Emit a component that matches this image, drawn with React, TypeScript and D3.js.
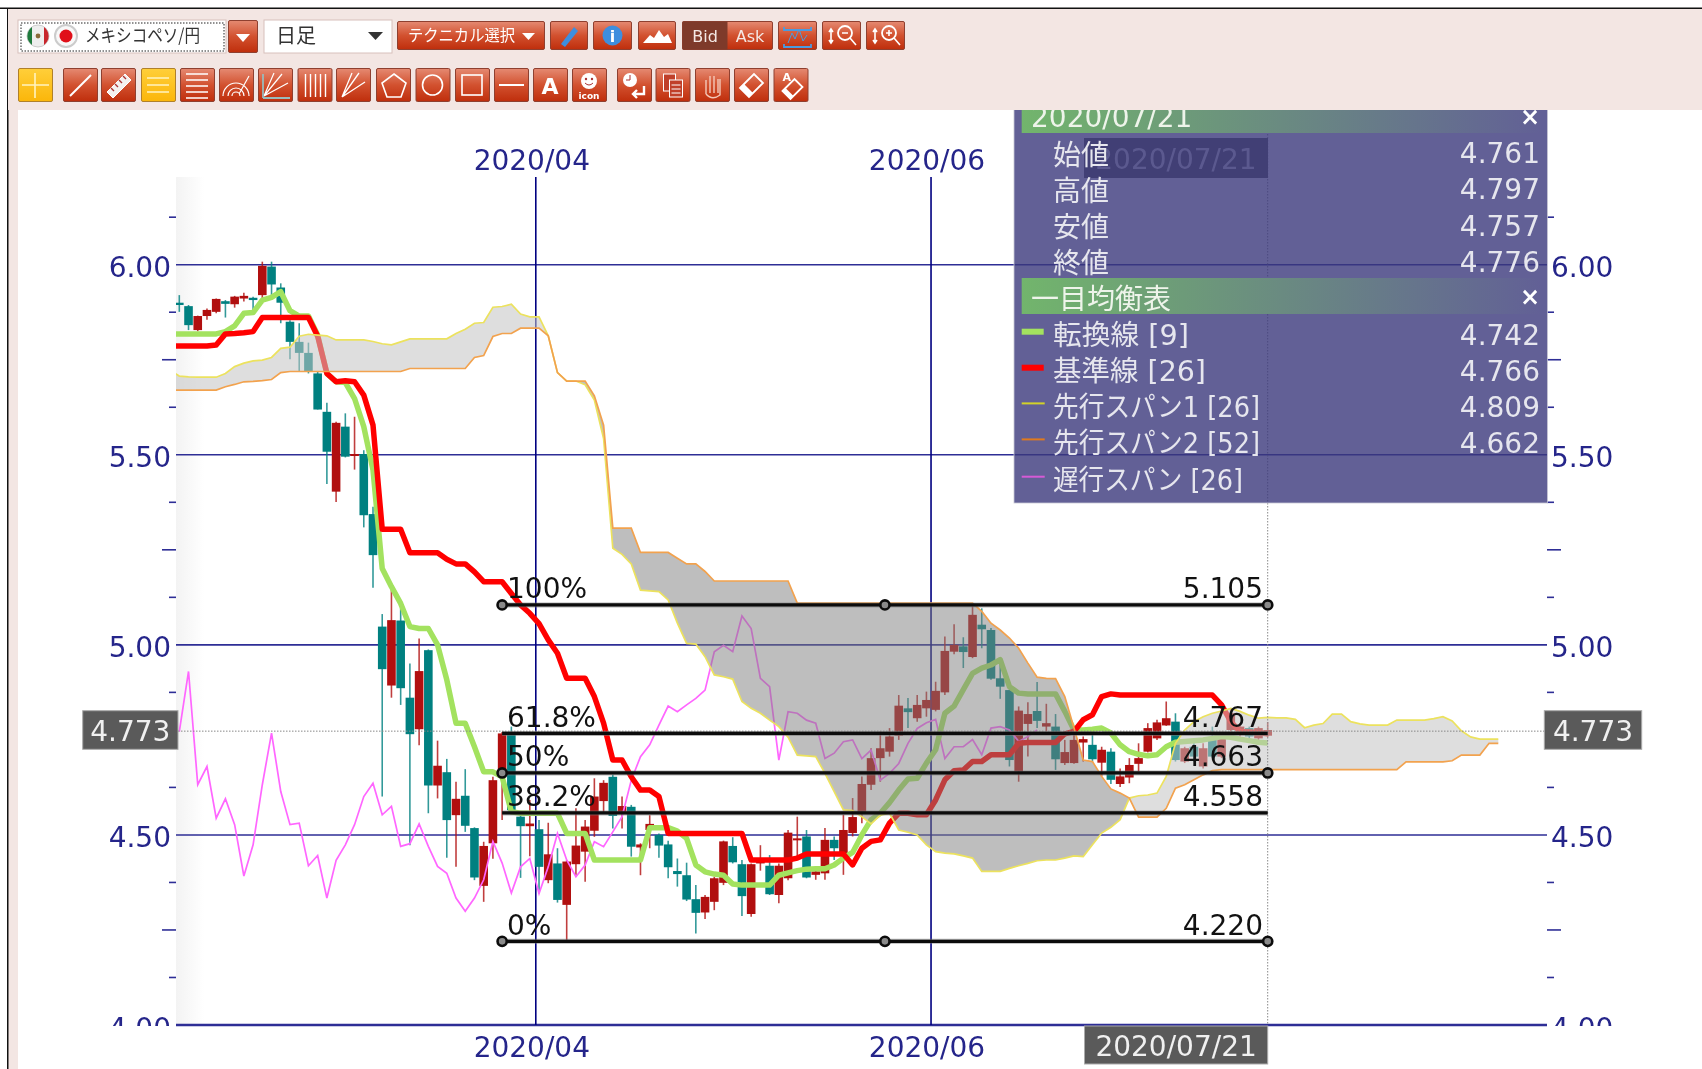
import React from "react";
import * as d3 from "d3";

const opens = [5.900,5.891,5.828,5.865,5.876,5.904,5.896,5.911,5.913,5.920,
5.995,5.940,5.850,5.797,5.768,5.714,5.613,5.403,5.574,5.499,
5.502,5.344,5.048,4.893,5.064,4.861,4.778,4.986,4.630,4.665,
4.552,4.603,4.518,4.366,4.478,4.662,4.767,4.548,4.523,4.515,
4.381,4.425,4.316,4.423,4.456,4.511,4.589,4.653,4.561,4.574,
4.467,4.513,4.500,4.475,4.405,4.394,4.331,4.296,4.324,4.374,
4.471,4.423,4.292,4.425,4.419,4.342,4.386,4.487,4.496,4.395,
4.399,4.487,4.452,4.505,4.557,4.632,4.702,4.719,4.761,4.833,
4.807,4.833,4.829,4.875,4.982,4.996,4.968,5.053,5.039,4.912,
4.881,4.667,4.792,4.826,4.785,4.785,4.689,4.689,4.743,4.737,
4.690,4.719,4.634,4.651,4.687,4.719,4.754,4.788,4.798,4.693,
4.732,4.680,4.750,4.706,4.776,4.763,4.781,4.754,4.761];
const closes = [5.894,5.841,5.865,5.881,5.910,5.897,5.916,5.918,5.907,5.997,
5.948,5.900,5.797,5.768,5.720,5.619,5.508,5.584,5.495,5.502,
5.341,5.236,4.936,5.065,4.886,4.765,4.931,4.630,4.682,4.539,
4.595,4.524,4.388,4.471,4.644,4.767,4.565,4.523,4.530,4.416,
4.449,4.329,4.430,4.472,4.522,4.601,4.637,4.550,4.576,4.469,
4.475,4.529,4.472,4.415,4.397,4.330,4.295,4.337,4.386,4.483,
4.428,4.339,4.423,4.434,4.344,4.419,4.506,4.491,4.388,4.404,
4.487,4.465,4.513,4.547,4.634,4.702,4.728,4.759,4.840,4.823,
4.842,4.855,4.879,4.984,5.000,4.981,5.079,5.041,4.911,4.890,
4.697,4.827,4.818,4.800,4.794,4.699,4.718,4.750,4.752,4.699,
4.724,4.645,4.654,4.684,4.702,4.781,4.796,4.807,4.697,4.728,
4.706,4.728,4.706,4.759,4.820,4.785,4.759,4.781,4.776];
const highs = [5.920,5.894,5.866,5.885,5.911,5.907,5.918,5.926,5.916,6.008,
6.008,5.951,5.854,5.846,5.795,5.718,5.637,5.587,5.609,5.600,
5.512,5.363,5.081,5.153,5.096,4.951,5.017,4.988,4.748,4.700,
4.640,4.673,4.520,4.482,4.653,4.771,4.785,4.557,4.592,4.539,
4.532,4.465,4.434,4.570,4.539,4.649,4.644,4.658,4.601,4.579,
4.478,4.552,4.504,4.485,4.438,4.427,4.368,4.342,4.390,4.485,
4.494,4.434,4.425,4.473,4.447,4.425,4.513,4.548,4.513,4.417,
4.518,4.496,4.553,4.597,4.654,4.728,4.772,4.781,4.868,4.860,
4.868,4.877,4.903,5.022,5.054,5.020,5.101,5.096,5.044,4.965,
4.882,4.838,4.849,4.902,4.845,4.818,4.750,4.772,4.759,4.763,
4.732,4.728,4.675,4.702,4.741,4.794,4.803,4.851,4.820,4.732,
4.741,4.741,4.785,4.768,4.833,4.794,4.785,4.785,4.797];
const lows = [5.876,5.828,5.825,5.855,5.872,5.861,5.887,5.903,5.879,5.898,
5.920,5.846,5.751,5.718,5.714,5.619,5.423,5.376,5.493,5.461,
5.309,5.150,4.601,4.861,4.842,4.473,4.736,4.557,4.596,4.440,
4.416,4.508,4.381,4.324,4.437,4.539,4.557,4.387,4.444,4.346,
4.373,4.322,4.219,4.390,4.377,4.495,4.557,4.517,4.517,4.443,
4.394,4.465,4.440,4.386,4.364,4.326,4.241,4.279,4.302,4.368,
4.425,4.287,4.285,4.406,4.342,4.320,4.381,4.443,4.386,4.382,
4.382,4.434,4.395,4.496,4.531,4.618,4.640,4.706,4.750,4.781,
4.798,4.811,4.825,4.868,4.975,4.939,4.965,4.991,4.908,4.858,
4.680,4.640,4.706,4.781,4.772,4.671,4.684,4.687,4.693,4.693,
4.654,4.634,4.626,4.636,4.667,4.717,4.750,4.787,4.693,4.689,
4.693,4.675,4.702,4.702,4.772,4.759,4.750,4.750,4.757];

// lines below start one bar before the first candle
const tenkan = [5.818,5.818,5.818,5.818,5.818,5.818,5.824,5.839,5.872,5.874,5.907,5.914,5.929,5.879,5.865,5.865,
5.815,5.714,5.692,5.690,5.648,5.574,5.460,5.201,5.153,5.109,
5.048,5.043,5.043,5.000,4.908,4.794,4.794,4.732,4.666,4.666,
4.653,4.561,4.557,4.557,4.557,4.557,4.557,4.504,4.504,4.504,
4.434,4.434,4.434,4.434,4.434,4.434,4.519,4.519,4.519,4.510,4.491,
4.421,4.403,4.397,4.394,4.371,4.368,4.368,4.368,4.368,4.394,
4.400,4.406,4.410,4.411,4.411,4.421,4.439,4.454,4.500,4.540,4.557,4.585,4.618,4.647,4.649,
4.689,4.724,4.820,4.839,4.882,4.925,4.939,4.947,4.961,4.890,4.873,4.871,4.871,4.871,4.871,
4.825,4.776,4.776,4.778,4.781,4.768,4.737,4.719,4.712,4.708,4.711,4.732,4.744,4.746,4.748,4.750,4.754,4.759,4.757,4.752,4.748,4.744,4.742];
const kijun = [5.786,5.786,5.786,5.786,5.786,5.789,5.818,5.819,5.821,5.824,5.861,5.861,5.861,5.861,5.861,5.861,
5.812,5.714,5.692,5.695,5.692,5.657,5.578,5.304,5.304,5.304,
5.242,5.242,5.242,5.242,5.225,5.213,5.213,5.192,5.166,5.166,5.166,
5.135,5.105,5.083,5.056,5.013,4.978,4.912,4.912,4.912,4.864,4.794,4.697,4.697,4.653,4.618,4.618,4.601,
4.504,4.504,4.504,4.504,4.504,4.504,4.504,4.504,4.504,
4.434,4.434,4.434,4.434,4.434,4.439,
4.450,4.450,4.450,4.450,4.450,4.421,4.465,4.483,4.487,4.531,4.557,4.557,4.553,4.553,4.592,4.645,4.669,4.671,4.693,4.693,
4.711,4.711,4.711,4.741,4.743,4.743,4.743,4.743,4.766,4.772,4.803,4.816,4.864,4.871,
4.868,4.868,4.868,4.868,4.868,4.868,4.868,4.868,4.868,4.868,4.868,4.842,4.798,4.772,4.771,4.769,4.766];
const spanA = [5.722,5.707,5.705,5.704,5.704,5.704,5.714,5.732,5.741,5.747,5.749,
5.756,5.780,5.783,5.812,5.817,5.815,5.813,5.802,5.802,5.802,
5.802,5.798,5.792,5.789,5.797,5.805,5.805,5.805,5.805,5.805,
5.819,5.830,5.846,5.848,5.888,5.890,5.896,5.870,5.863,5.863,
5.813,5.716,5.694,5.694,5.684,5.644,5.543,5.254,5.238,5.213,
5.144,5.142,5.140,5.118,5.057,5.004,5.002,4.969,4.921,4.916,
4.910,4.851,4.833,4.820,4.802,4.785,4.757,4.710,4.708,4.706,
4.662,4.614,4.566,4.564,4.548,4.529,4.552,4.557,4.513,4.507,
4.500,4.474,4.456,4.452,4.450,4.445,4.439,4.404,4.404,4.404,
4.412,4.419,4.425,4.432,4.434,4.434,4.439,4.445,4.443,4.474,
4.505,4.520,4.540,4.597,4.603,4.605,4.610,4.654,4.741,4.776,
4.798,4.811,4.820,4.826,4.833,4.825,4.815,4.807,4.809,4.808,
4.808,4.804,4.782,4.789,4.793,4.818,4.818,4.798,4.792,4.789,
4.789,4.789,4.802,4.802,4.802,4.802,4.806,4.811,4.800,4.774,
4.758,4.752,4.752,4.752];
const spanB = [5.670,5.670,5.670,5.670,5.670,5.670,5.679,5.685,5.692,5.693,5.695,
5.698,5.716,5.719,5.719,5.719,5.719,5.719,5.719,5.719,5.719,
5.719,5.719,5.719,5.719,5.719,5.727,5.727,5.727,5.727,5.727,
5.727,5.727,5.756,5.761,5.811,5.819,5.819,5.833,5.833,5.833,
5.813,5.716,5.694,5.694,5.694,5.655,5.578,5.307,5.307,5.307,
5.243,5.243,5.243,5.243,5.228,5.213,5.213,5.193,5.168,5.168,
5.168,5.168,5.168,5.168,5.168,5.168,5.168,5.110,5.110,5.110,
5.110,5.110,5.110,5.110,5.110,5.110,5.110,5.110,5.110,5.110,
5.110,5.110,5.110,5.110,5.110,5.110,5.110,5.088,5.057,5.039,
5.018,4.991,4.952,4.915,4.912,4.911,4.864,4.781,4.697,4.693,
4.654,4.621,4.610,4.597,4.547,4.547,4.547,4.570,4.623,4.632,
4.645,4.658,4.669,4.672,4.672,4.672,4.672,4.672,4.672,4.672,
4.672,4.672,4.672,4.672,4.672,4.672,4.672,4.672,4.672,4.672,
4.672,4.672,4.672,4.692,4.692,4.692,4.692,4.692,4.695,4.710,
4.710,4.710,4.741,4.741];
// chikou starts at the first candle
const chikou = [4.772,4.930,4.632,4.680,4.544,4.595,4.527,4.392,4.474,4.632,
4.768,4.614,4.527,4.531,4.419,4.446,4.334,4.433,4.474,4.527,
4.601,4.636,4.553,4.575,4.470,4.477,4.529,4.470,4.417,4.399,
4.334,4.299,4.334,4.382,4.483,4.426,4.347,4.416,4.438,4.346,
4.416,4.504,4.434,4.390,4.421,4.482,4.469,4.508,4.548,4.644,
4.706,4.737,4.789,4.839,4.824,4.842,4.859,4.881,4.982,4.999,
4.982,5.076,5.043,4.912,4.890,4.697,4.824,4.820,4.802,4.794,
4.701,4.715,4.745,4.750,4.701,4.723,4.644,4.662,4.688,4.741,
4.780,4.795,4.804,4.701,4.732,4.732,4.751,4.711,4.781,4.785,
4.776,4.746,4.759,4.776];

const yMajor = [6, 5.5, 5, 4.5, 4];
const yMajorLabels = ["6.00", "5.50", "5.00", "4.50", "4.00"];
const yMinorShort = [6.125, 5.875, 5.625, 5.375, 5.125, 4.875, 4.625, 4.375, 4.125];
const yMinorLong = [5.75, 5.25, 4.75, 4.25];
const xTickLabels = ["2020/04", "2020/06"];
const xTickBars = [38.65, 81.5];
const cursorBar = 118;
const cursorDate = "2020/07/21";
const priceNow = 4.773;
const fibLevels = [5.105, 4.767, 4.663, 4.558, 4.22];
const fibPercent = ["100%", "61.8%", "50%", "38.2%", "0%"];
const fibValueLabels = ["5.105", "4.767", "4.663", "4.558", "4.220"];
const fibHandleLevels = [5.105, 4.663, 4.22];
const fibMidHandleLevels = [5.105, 4.22];
const fibStartBar = 35;
const ohlcLabels = ["始値", "高値", "安値", "終値"];
const ohlcValues = ["4.761", "4.797", "4.757", "4.776"];
const ichiLabels = ["転換線 [9]", "基準線 [26]", "先行スパン1 [26]", "先行スパン2 [52]", "遅行スパン [26]"];
const ichiLabelWidths = [136, 153, 207, 207, 190];
const ichiValues = ["4.742", "4.766", "4.809", "4.662", ""];
const ichiColors = ["#a3e25f", "#ff0000", "#d2d228", "#e07a1e", "#d65ad6"];
const ichiThick = [6, 6, 2, 2, 2];
const row2Buttons = ["cross", "line", "ruler", "h3", "h5", "arcs", "fanbox", "v5", "fan", "penta", "circle", "rect", "dash", "A", "icon", "clock", "copy", "hand", "eraser", "erasea"];
const row2X = [18, 63, 101, 141, 180, 219, 258, 297.5, 336, 376, 415.5, 455, 494, 533, 572, 617, 655.5, 695, 734, 773.5];

const x = d3.scaleLinear().domain([0, 118]).range([179.3, 1267.7]);
const y = d3.scaleLinear().domain([4, 6]).range([1025, 264.7]);

const AXIS = "#2e2e96";
const NAVY = "#000080";
const FONT = "'DejaVu Sans', sans-serif";
const CJK = "'Noto Sans CJK JP', sans-serif";
const MIXED = "'DejaVu Sans', 'Noto Sans CJK JP', sans-serif";
const TEAL = "#008080";
const RED = "#b10f0f";

type CloudPt = { i: number; a: number; b: number };
function cloudPoints(): CloudPt[] {
  const out: CloudPt[] = [];
  spanA.forEach((a, k) => {
    const b = spanB[k];
    const i = k - 1;
    if (k > 0) {
      const pa = spanA[k - 1];
      const pb = spanB[k - 1];
      const d0 = pa - pb;
      const d1 = a - b;
      if (d0 * d1 < 0) {
        const t = d0 / (d0 - d1);
        const v = pa + (a - pa) * t;
        out.push({ i: i - 1 + t, a: v, b: v });
      }
    }
    out.push({ i, a, b });
  });
  return out;
}

function Btn({ bx, by, w, h, yellow, children }: any) {
  return (
    <g transform={`translate(${bx},${by})`}>
      <rect x={0.5} y={0.5} width={w - 1} height={h - 1} rx={1.5} fill={yellow ? "url(#yel)" : "url(#btn)"} stroke={yellow ? "#b0802a" : "#8f4030"} />
      {children}
    </g>
  );
}

function Icon({ kind }: { kind: string }) {
  const s = { stroke: "#fff", strokeWidth: 1.6, fill: "none" } as any;
  switch (kind) {
    case "cross": return <path d="M17 5V30M4 17H31" {...s} stroke="#fff3c0" />;
    case "line": return <path d="M7 28L28 7" {...s} strokeWidth={2} />;
    case "ruler": return <g><path d="M6 24L24 6L30 12L12 30Z" fill="#f4f0ee" stroke="#fff" /><path d="M10 20l3 3M14 16l3 3M18 12l3 3M22 8l3 3" stroke="#a33" strokeWidth={1.4} /></g>;
    case "h3": return <path d="M6 10H28M6 17H28M6 24H28" {...s} stroke="#fff3c0" />;
    case "h5": return <path d="M6 6H28M6 12H28M6 18H28M6 24H28M6 30H28" {...s} />;
    case "arcs": return <path d="M4 28A13 13 0 0 1 30 28M9 28A8 8 0 0 1 25 28M13 28A4 4 0 0 1 21 28M20 26L30 8" {...s} strokeWidth={1.2} />;
    case "fanbox": return <g><path d="M6 28L16 5M6 28L24 6M6 28L30 15" {...s} strokeWidth={1.2} /><path d="M5 30H32M5 6V30" stroke="#9bb" strokeWidth={1.8} fill="none" /></g>;
    case "v5": return <path d="M8 6V29M13 6V29M18 6V29M23 6V29M28 6V29" {...s} strokeWidth={1.4} />;
    case "fan": return <path d="M6 29L16 5M6 29L23 5M6 29L29 14" {...s} strokeWidth={1.3} />;
    case "penta": return <path d="M18 6L30 15L25 29H11L6 15Z" {...s} />;
    case "circle": return <circle cx={17} cy={17} r={10} {...s} />;
    case "rect": return <rect x={7} y={7} width={20} height={20} {...s} />;
    case "dash": return <path d="M5 17H30" {...s} strokeWidth={2} />;
    case "A": return <text x={17} y={26} textAnchor="middle" fontFamily={FONT} fontSize={22} fill="#fff" fontWeight="bold">A</text>;
    case "icon": return <g><circle cx={17} cy={13} r={8} fill="#fff" /><circle cx={14} cy={11} r={1.2} fill="#a33" /><circle cx={20} cy={11} r={1.2} fill="#a33" /><path d="M13 15Q17 19 21 15" stroke="#a33" fill="none" /><text x={17} y={31} textAnchor="middle" fontFamily={FONT} fontSize={9} fill="#fff" fontWeight="bold">icon</text></g>;
    case "clock": return <g><circle cx={13} cy={12} r={7} fill="#fff" /><path d="M13 7V12H9" stroke="#a33" fill="none" /><path d="M27 18V26H16M20 22L16 26L20 30" stroke="#fff" strokeWidth={2.4} fill="none" /></g>;
    case "copy": return <g><rect x={8} y={6} width={12} height={17} fill="#c0402a" stroke="#fff" /><rect x={14} y={12} width={13} height={17} fill="#c0402a" stroke="#fff" /><path d="M16 17H25M16 21H25M16 25H25" stroke="#fff" /></g>;
    case "hand": return <path d="M11 26V12M15 25V8M19 25V8M23 25V11M11 26Q17 33 25 27V11" {...s} stroke="#f4c8b8" strokeWidth={1.4} />;
    case "eraser": return <g><path d="M6 20L20 6L29 15L15 29Z" {...s} strokeWidth={1.8} /><path d="M6 20L15 29L19 25L10 16Z" fill="#fff" /></g>;
    case "erasea": return <g><path d="M9 23L21 11L29 19L17 31Z" {...s} strokeWidth={1.8} /><path d="M9 23L17 31L20 28L12 20Z" fill="#fff" /><text x={9} y={13} fontFamily={FONT} fontSize={11} fill="#fff" fontWeight="bold">A</text></g>;
  }
  return null;
}

function Toolbar() {
  return (
    <g>
      <rect x={0} y={0} width={1702} height={8} fill="#fff" />
      <rect x={8} y={9} width={1694} height={101} fill="#f3e6e3" />
      <rect x={0} y={7.5} width={1702} height={1.5} fill="#111" />
      {/* currency pair selector */}
      <rect x={18} y={20} width={208} height={33} fill="#fff" stroke="#d8c0bc" />
      <rect x={21} y={23} width={203} height={28} fill="none" stroke="#222" strokeDasharray="1.5 1.5" />
      <g>
        <circle cx={38} cy={36} r={11} fill="#eee" stroke="#ccc" />
        <path d="M32 27A11 11 0 0 0 32 45Z" fill="#1f7a3c" />
        <path d="M44 27A11 11 0 0 1 44 45Z" fill="#c8262c" />
        <circle cx={38} cy={36} r={2.4} fill="#8a6a3a" />
        <circle cx={66} cy={36} r={11} fill="#f8f8f8" stroke="#ccc" strokeWidth={2} />
        <circle cx={66} cy={36} r={6.5} fill="#e0101a" />
      </g>
      <text x={85} y={42} fontFamily={CJK} fontSize={18} textLength={115} lengthAdjust="spacingAndGlyphs" fill="#333">メキシコペソ/円</text>
      <Btn bx={228} by={20} w={30} h={33}><path d="M8 14H22L15 22Z" fill="#fff" /></Btn>
      <rect x={264} y={20} width={128} height={33} fill="#fff" stroke="#d8c0bc" />
      <text x={276} y={43} fontFamily={CJK} fontSize={20} fill="#333">日足</text>
      <path d="M368 32H383L375.5 40Z" fill="#333" />
      <Btn bx={397} by={21} w={148} h={29}>
        <text x={11} y={20} fontFamily={CJK} fontSize={16} textLength={107} lengthAdjust="spacingAndGlyphs" fill="#fff">テクニカル選択</text>
        <path d="M125 12H138L131.5 19Z" fill="#fff" />
      </Btn>
      <Btn bx={550} by={21} w={38} h={29}><path d="M11 23L24 6L28 10L15 26Z" fill="#3e8ede" /></Btn>
      <Btn bx={593} by={21} w={39} h={29}><circle cx={19.5} cy={14.5} r={10} fill="#3e8ede" /><text x={19.5} y={21} textAnchor="middle" fontFamily={FONT} fontSize={16} fontWeight="bold" fill="#fff">i</text></Btn>
      <Btn bx={638} by={21} w={38} h={29}><path d="M5 22L12 14L16 17L21 9L26 16L30 13L34 22Z" fill="#fff" /></Btn>
      <Btn bx={682} by={21} w={91} h={29}>
        <rect x={0.5} y={0.5} width={45} height={28} fill="#7e3a2a" />
        <text x={23} y={21} textAnchor="middle" fontFamily={FONT} fontSize={16} fill="#f4e8e4">Bid</text>
        <text x={68} y={21} textAnchor="middle" fontFamily={FONT} fontSize={16} fill="#f4e8e4">Ask</text>
      </Btn>
      <Btn bx={778} by={21} w={39} h={29}>
        <path d="M6 6V9H33V6M6 23V26H33V23" stroke="#4a9be0" strokeWidth={1.8} fill="none" />
        <path d="M10 22L14 12L17 18L21 8L25 20L29 14" stroke="#4a9be0" fill="none" />
      </Btn>
      <Btn bx={822} by={21} w={39} h={29}>
        <circle cx={23} cy={12} r={7} fill="none" stroke="#fff" strokeWidth={1.8} />
        <path d="M28 17L34 24M20 12H26M9 8V22M7 11L9 8L11 11M7 19L9 22L11 19" stroke="#fff" strokeWidth={1.6} fill="none" />
      </Btn>
      <Btn bx={866} by={21} w={39} h={29}>
        <circle cx={23} cy={12} r={7} fill="none" stroke="#fff" strokeWidth={1.8} />
        <path d="M28 17L34 24M20 12H26M23 9V15M9 8V22M7 11L9 8L11 11M7 19L9 22L11 19" stroke="#fff" strokeWidth={1.6} fill="none" />
      </Btn>
      {row2Buttons.map((k, n) => (
        <Btn key={k} bx={row2X[n]} by={68} w={35} h={34} yellow={k === "cross" || k === "h3"}>
          <Icon kind={k} />
        </Btn>
      ))}
    </g>
  );
}

function Candles() {
  return (
    <g>
      {opens.map((o, i) => {
        const c = closes[i];
        const col = c >= o ? RED : TEAL;
        const top = y(Math.max(o, c));
        const bot = y(Math.min(o, c));
        return (
          <g key={i}>
            <line x1={x(i)} x2={x(i)} y1={y(highs[i])} y2={y(lows[i])} stroke={col} strokeWidth={1.6} opacity={0.8} />
            <rect x={x(i) - 4.3} y={top} width={8.6} height={Math.max(bot - top, 2)} fill={col} />
          </g>
        );
      })}
    </g>
  );
}

function Handle({ cx, cy }: { cx: number; cy: number }) {
  return <circle cx={cx} cy={cy} r={4.6} fill="#8a8a8a" stroke="#0c0c0c" strokeWidth={2.6} />;
}

export default function App() {
  const lineT = d3.line<number>().x((_, k) => x(k - 1)).y((v) => y(v));
  const lineC = d3.line<number>().x((_, k) => x(k)).y((v) => y(v));
  const cloud = cloudPoints();
  const areaLight = d3.area<CloudPt>().x((p) => x(p.i)).y0((p) => y(p.b)).y1((p) => y(Math.max(p.a, p.b)));
  const areaDark = d3.area<CloudPt>().x((p) => x(p.i)).y0((p) => y(p.a)).y1((p) => y(Math.max(p.a, p.b)));
  const chartL = 176;
  const chartR = 1547;
  const chartT = 177;
  const chartB = 1025;
  const curX = x(cursorBar);
  const nowY = y(priceNow);
  const fibL = x(fibStartBar);
  const panelL = 1014;
  const panelR = 1547.5;
  const rowsA = [163, 199, 235.7, 271.7];
  const rowsB = [345, 381, 416.7, 452.7, 490];

  return (
    <svg width={1702} height={1069} style={{ position: "fixed", left: 0, top: 0, display: "block", background: "#fff", filter: "blur(0.45px)" }}>
      <defs>
        <linearGradient id="btn" x1="0" y1="0" x2="0" y2="1">
          <stop offset="0" stopColor="#e58a72" />
          <stop offset="0.5" stopColor="#d2512f" />
          <stop offset="1" stopColor="#bf2e0c" />
        </linearGradient>
        <linearGradient id="yel" x1="0" y1="0" x2="0" y2="1">
          <stop offset="0" stopColor="#ffcf3a" />
          <stop offset="1" stopColor="#fbb60a" />
        </linearGradient>
        <linearGradient id="fade" x1="0" y1="0" x2="1" y2="0">
          <stop offset="0" stopColor="#f3f3f3" />
          <stop offset="1" stopColor="#ffffff" />
        </linearGradient>
        <linearGradient id="hdr" x1="0" y1="0" x2="1" y2="0">
          <stop offset="0" stopColor="#72b56c" />
          <stop offset="1" stopColor="#626096" />
        </linearGradient>
        <clipPath id="plot"><rect x={chartL} y={chartT} width={chartR - chartL} height={chartB - chartT + 1} /></clipPath>
        <clipPath id="above"><rect x={0} y={110} width={1702} height={916} /></clipPath>
      </defs>

      <rect x={8} y={9} width={10} height={1060} fill="#f3e6e3" />
      <rect x={7} y={8} width={1.5} height={1061} fill="#111" />
      <rect x={chartL} y={chartT} width={28} height={chartB - chartT} fill="url(#fade)" />

      {/* grid */}
      {yMajor.map((v) => (
        <line key={v} x1={chartL} x2={chartR} y1={y(v)} y2={y(v)} stroke={AXIS} strokeWidth={v === 4 ? 2.4 : 1.6} />
      ))}
      {xTickBars.map((b) => (
        <line key={b} x1={x(b)} x2={x(b)} y1={chartT} y2={chartB} stroke={NAVY} strokeWidth={1.6} />
      ))}
      {yMinorShort.map((v) => (
        <g key={v} stroke={AXIS} strokeWidth={1.6}>
          <line x1={chartL - 7} x2={chartL} y1={y(v)} y2={y(v)} />
          <line x1={chartR} x2={chartR + 7} y1={y(v)} y2={y(v)} />
        </g>
      ))}
      {yMinorLong.map((v) => (
        <g key={v} stroke={AXIS} strokeWidth={1.6}>
          <line x1={chartL - 14} x2={chartL} y1={y(v)} y2={y(v)} />
          <line x1={chartR} x2={chartR + 14} y1={y(v)} y2={y(v)} />
        </g>
      ))}
      <g clipPath="url(#above)" fontFamily={FONT} fontSize={28} fill="#25258a">
        {yMajor.map((v, k) => (
          <g key={v}>
            <text x={171} y={y(v) + 12.5} textAnchor="end">{yMajorLabels[k]}</text>
            <text x={1551} y={y(v) + 12.5}>{yMajorLabels[k]}</text>
          </g>
        ))}
      </g>
      <g fontFamily={FONT} fontSize={28} fill="#25258a" textAnchor="middle">
        {xTickBars.map((b, k) => (
          <g key={b}>
            <text x={x(b) - 4} y={170}>{xTickLabels[k]}</text>
            <text x={x(b) - 4} y={1057}>{xTickLabels[k]}</text>
          </g>
        ))}
      </g>

      <g clipPath="url(#plot)">
        <Candles />
        <path d={lineC(chikou) || ""} fill="none" stroke="#ff66ff" strokeWidth={1.7} />
        <path d={lineT(tenkan) || ""} fill="none" stroke="#a3e25f" strokeWidth={5.5} strokeLinejoin="round" />
        <path d={lineT(kijun) || ""} fill="none" stroke="#ff0000" strokeWidth={5.5} strokeLinejoin="round" />
        <path d={areaLight(cloud) || ""} fill="rgba(196,196,196,0.56)" />
        <path d={areaDark(cloud) || ""} fill="rgba(125,125,125,0.5)" />
        <path d={lineT(spanA) || ""} fill="none" stroke="#ece25e" strokeWidth={1.7} />
        <path d={lineT(spanB) || ""} fill="none" stroke="#f2a24e" strokeWidth={1.7} />
      </g>

      {/* crosshair */}
      <line x1={178} x2={1545} y1={nowY} y2={nowY} stroke="#888" strokeWidth={1} strokeDasharray="1.5 1.5" />
      <line x1={curX} x2={curX} y1={110} y2={chartB} stroke="#888" strokeWidth={1} strokeDasharray="1.5 1.5" />

      {/* fibonacci retracement */}
      {fibLevels.map((v, k) => (
        <g key={v}>
          <line x1={fibL} x2={curX} y1={y(v)} y2={y(v)} stroke="#777" strokeWidth={5} opacity={0.55} />
          <line x1={fibL} x2={curX} y1={y(v)} y2={y(v)} stroke="#0c0c0c" strokeWidth={3.2} />
          <text x={507} y={y(v) - 6.5} fontFamily={FONT} fontSize={28} fill="#111">{fibPercent[k]}</text>
          <text x={1263} y={y(v) - 6.5} textAnchor="end" fontFamily={FONT} fontSize={28} fill="#111">{fibValueLabels[k]}</text>
        </g>
      ))}
      {fibHandleLevels.map((v) => (
        <g key={v}>
          <Handle cx={fibL} cy={y(v)} />
          <Handle cx={curX} cy={y(v)} />
        </g>
      ))}
      {fibMidHandleLevels.map((v) => (
        <Handle key={v} cx={(fibL + curX) / 2} cy={y(v)} />
      ))}

      {/* price tags */}
      {[[82.7, 95.3], [1544.3, 97.4]].map(([bx, bw]) => (
        <g key={bx}>
          <rect x={bx} y={710.7} width={bw} height={38.6} fill="#5a5a5a" stroke="#aaa" strokeWidth={1} />
          <text x={bx + bw / 2} y={740.5} textAnchor="middle" fontFamily={FONT} fontSize={28} fill="#f0f0f0">{priceNow.toFixed(3)}</text>
        </g>
      ))}
      <rect x={1084.5} y={1026} width={curX - 1084.5} height={38} fill="#5a5a5a" stroke="#aaa" strokeWidth={1} />
      <text x={(1084.5 + curX) / 2} y={1056} textAnchor="middle" fontFamily={FONT} fontSize={28} fill="#f0f0f0">{cursorDate}</text>

      {/* top date tag under panel */}
      <rect x={1084} y={138} width={184} height={40} fill="#5a5a5a" />
      <text x={1176} y={169} textAnchor="middle" fontFamily={FONT} fontSize={28} fill="#ddd">{cursorDate}</text>

      {/* info panel */}
      <rect x={panelL} y={105} width={panelR - panelL} height={398} fill="rgba(59,56,124,0.8)" stroke="#c8c8d4" strokeWidth={0.8} />
      <rect x={1021.7} y={105} width={520} height={28} fill="url(#hdr)" />
      <rect x={1021.7} y={278} width={520} height={36} fill="url(#hdr)" />
      <text x={1031} y={127} fontFamily={FONT} fontSize={28} fill="#eef4ea">{cursorDate}</text>
      <text x={1530} y={125} textAnchor="middle" fontFamily={FONT} fontSize={24} fontWeight="bold" fill="#fff">×</text>
      <text x={1031} y={309} fontFamily={CJK} fontSize={28} fill="#eef4ea">一目均衡表</text>
      <text x={1530} y={305} textAnchor="middle" fontFamily={FONT} fontSize={24} fontWeight="bold" fill="#fff">×</text>
      {ohlcLabels.map((t, k) => (
        <g key={t} fill="#e6e6ee">
          <text x={1053} y={rowsA[k] + 1.5} fontFamily={CJK} fontSize={28}>{t}</text>
          <text x={1540} y={rowsA[k]} textAnchor="end" fontFamily={FONT} fontSize={28}>{ohlcValues[k]}</text>
        </g>
      ))}
      {ichiLabels.map((t, k) => (
        <g key={t} fill="#e6e6ee">
          <rect x={1021.7} y={rowsB[k] - 13.3 - ichiThick[k] / 2} width={ichiThick[k] > 2 ? 22 : 23} height={ichiThick[k]} fill={ichiColors[k]} />
          <text x={1053} y={rowsB[k]} fontFamily={MIXED} fontSize={28} textLength={ichiLabelWidths[k]} lengthAdjust="spacingAndGlyphs">{t}</text>
          <text x={1540} y={rowsB[k]} textAnchor="end" fontFamily={FONT} fontSize={28}>{ichiValues[k]}</text>
        </g>
      ))}

      <Toolbar />
    </svg>
  );
}
